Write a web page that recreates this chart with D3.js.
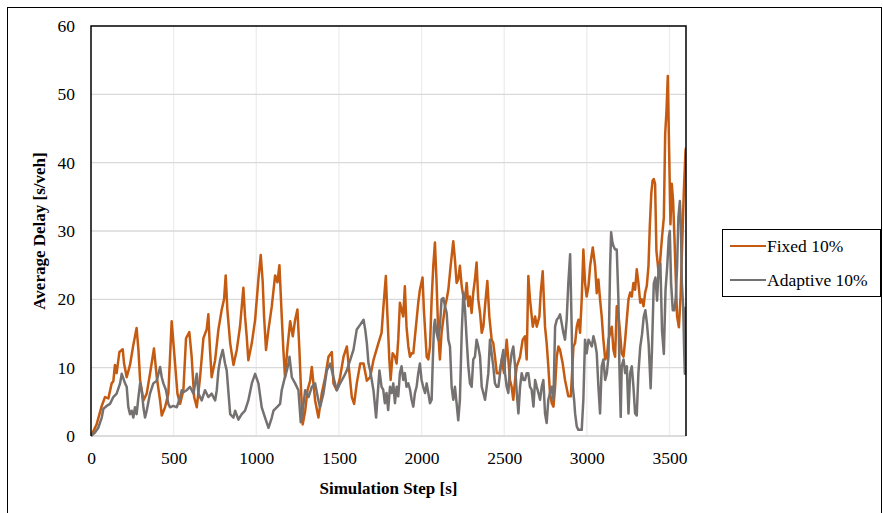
<!DOCTYPE html>
<html><head><meta charset="utf-8">
<script src="https://cdn.jsdelivr.net/npm/d3@7"></script>
<style>body{margin:0;background:#fff}svg{display:block}text{font-family:"Liberation Serif","Times New Roman",serif}</style>
</head><body><svg id="c" width="883" height="513"></svg>
<script>
const xTicks=[0,500,1000,1500,2000,2500,3000,3500];
const yTicks=[0,10,20,30,40,50,60];
const seriesNames=["Fixed 10%","Adaptive 10%"];
const fixedT=[0,34,65,85,105,125,135,145,155,172,192,200,216,236,256,276,287,297,317,337,357,381,398,418,428,448,468,488,502,523,539,559,575,595,609,624,640,660,680,700,710,720,730,751,771,791,805,815,825,842,862,882,902,922,932,942,952,973,993,1013,1027,1039,1047,1059,1074,1094,1114,1128,1140,1154,1164,1174,1189,1205,1221,1235,1249,1261,1269,1281,1296,1310,1326,1336,1356,1376,1396,1417,1437,1457,1467,1487,1507,1528,1548,1564,1578,1592,1608,1629,1649,1669,1689,1709,1739,1758,1768,1784,1792,1805,1813,1825,1839,1849,1859,1869,1879,1889,1899,1909,1920,1930,1940,1950,1966,1980,1990,2006,2014,2031,2041,2051,2061,2071,2081,2091,2101,2111,2121,2132,2142,2152,2162,2176,2192,2202,2212,2222,2232,2243,2253,2263,2273,2283,2293,2303,2313,2323,2333,2343,2354,2364,2374,2384,2398,2410,2424,2434,2444,2455,2471,2485,2499,2515,2525,2535,2545,2555,2566,2576,2596,2612,2626,2636,2646,2656,2673,2687,2697,2713,2721,2733,2747,2757,2767,2777,2788,2798,2808,2818,2828,2838,2854,2868,2888,2903,2913,2919,2929,2939,2949,2959,2969,2979,2989,2999,3010,3020,3036,3050,3060,3070,3080,3090,3100,3111,3121,3131,3141,3151,3161,3171,3181,3191,3201,3211,3222,3232,3242,3252,3262,3272,3282,3292,3302,3312,3323,3333,3343,3353,3363,3373,3381,3390,3398,3405,3413,3421,3429,3437,3445,3455,3466,3474,3482,3490,3498,3506,3514,3522,3530,3538,3546,3557,3567,3577,3587,3597,3600];
const fixedV=[0,1.7,4.4,5.7,5.5,7.7,8,10.4,9.2,12.3,12.7,10.6,8.6,10.4,13.3,15.8,12.6,8.2,5.2,6.2,9.1,12.8,8.6,5.2,3,4.2,6.2,16.8,12.6,6.2,4.7,6.7,14.3,15.2,11.6,5.7,4.2,8.6,14.3,15.6,17.8,12.6,8.6,11.1,15.6,18.5,20,23.5,18.5,13.6,10.4,12.6,16.1,21.7,17.5,14.6,11.1,13.6,17,23,26.5,22.5,17.5,12.6,15.6,19,23.5,22.5,25,17.5,12.6,8.6,13,16.8,14.6,17,18.5,12.6,7.7,1.7,3.7,6.7,8.1,10.1,5.2,2.7,6.2,8.6,11.6,12.3,7.7,6.7,8.6,11.6,13.1,9.1,5.7,4.7,7.7,10.6,10.6,8.1,8.6,11.1,13.6,15.1,18.5,23.4,18.5,11.2,8.2,12.1,11.6,10.6,14.1,19.5,18.5,17.5,21.9,16,13.1,11.6,12.1,12.1,16,19.5,21.4,23.2,18.5,11.6,11.2,13.1,20,24.9,28.3,22.4,15.1,11.2,15.1,17.1,19,20,21.4,24.9,28.5,25.8,22.4,22.9,24.9,21.9,20.4,20,22.4,19,20.4,18,21,22.9,25.4,20,18,15.1,16,19,22.7,17.5,14.1,13.6,11.7,9.2,9.2,11.2,9.2,14.1,11.2,8.2,7.2,5.3,8.2,10.2,11.6,14.1,14.6,11.2,23.4,20,16,17.5,16,17.5,21,24.1,16,13.6,10.2,6.3,4.8,4.3,7.2,11.6,13.1,12.6,10.6,8.2,5.8,5.8,10.2,13.1,13.6,16,17,15.1,20,27.3,22.4,20.4,21.9,24.9,27.6,24.9,20.9,22.9,20,17.5,14.1,11.2,11.6,14.1,15.1,16,12.6,11.6,19,18,15.1,12.1,11.6,14.1,17.1,20,21,20.4,22.4,21.4,24.4,22.4,19.5,20,19,21,22,24.9,30.7,35.5,37.4,37.6,36.9,27.1,25.2,23.2,26.1,29.1,32,44.2,47.6,52.7,41.7,31,36.9,34.4,29.1,23.2,17.5,15.9,20.3,28.1,35.9,41.7,42.2];
const adaptiveT=[0,24,44,65,75,95,115,135,155,176,186,196,206,216,226,236,246,256,266,276,287,297,307,317,327,337,357,377,398,418,428,438,454,468,478,498,519,539,549,559,579,599,620,640,650,670,690,710,730,751,761,771,781,797,811,821,842,862,872,892,912,932,952,973,993,1013,1033,1053,1074,1094,1104,1124,1144,1154,1168,1185,1195,1201,1215,1235,1255,1269,1281,1296,1316,1336,1356,1376,1386,1406,1427,1447,1467,1487,1507,1528,1548,1568,1588,1608,1629,1649,1659,1669,1679,1689,1709,1725,1735,1745,1758,1768,1778,1788,1798,1809,1819,1829,1839,1849,1859,1869,1879,1889,1899,1909,1920,1930,1940,1950,1960,1970,1980,1990,2000,2010,2021,2031,2041,2051,2061,2067,2075,2081,2091,2101,2111,2121,2132,2142,2152,2162,2172,2182,2192,2202,2212,2222,2232,2243,2253,2263,2273,2283,2293,2303,2313,2323,2333,2343,2354,2364,2374,2384,2394,2404,2414,2424,2434,2444,2455,2465,2475,2485,2495,2505,2515,2525,2535,2545,2555,2566,2576,2586,2596,2606,2616,2626,2636,2646,2656,2666,2677,2687,2697,2707,2717,2727,2737,2747,2757,2767,2777,2788,2798,2808,2818,2828,2838,2848,2858,2868,2878,2888,2899,2909,2915,2923,2929,2939,2949,2959,2969,2979,2989,2999,3010,3020,3030,3040,3050,3060,3070,3080,3090,3100,3111,3121,3131,3141,3147,3155,3161,3171,3181,3191,3197,3205,3211,3222,3232,3242,3252,3262,3272,3282,3292,3302,3312,3323,3334,3344,3354,3364,3374,3386,3394,3405,3415,3425,3435,3445,3455,3466,3476,3486,3496,3502,3510,3520,3530,3538,3546,3554,3563,3569,3575,3583,3589,3593,3599];
const adaptiveV=[0,0.5,1.2,2.7,4,4.4,4.7,5.7,6.2,7.7,9.1,8.4,7.7,7.2,4.2,3.2,3.7,2.7,4.2,3.2,5.7,7.7,6.7,4.2,2.7,3.7,6.2,7.7,8.1,10.1,8.6,7.7,6.7,4.7,4.2,4.4,4.2,5.7,6.7,6.4,6.7,7.2,6.2,9.1,6.2,5.2,6.7,5.7,6.2,5.2,6.7,9.6,11.1,12.6,10.6,9.6,3.2,2.7,3.7,2.4,3.2,3.7,5.2,7.7,9.1,7.7,4.2,2.7,1.2,2.7,3.7,4.2,4.7,6.7,8.1,9.6,10.6,11.6,8.6,7.7,6.7,2,3.7,6.7,5.7,7.2,7.7,5.2,4.2,6.2,9.6,10.6,8.6,6.7,7.7,8.6,9.6,11.1,12.6,15.6,16.3,17,15.6,13.6,10.6,9.6,6.7,2.7,6.2,9.6,7.2,6.8,4.8,6.3,3.8,7.2,6.3,7.7,4.8,7.2,5.8,9.2,10.2,8.2,9.2,7.2,7.7,6.8,5.3,4.3,6.3,7.2,9.2,10.6,8.2,7.2,6.3,7.7,6.3,4.8,5.3,10.2,16,17,15.1,14.1,16,20,20.2,19,18,14.1,13.1,7.2,5.3,7.2,4.8,2.3,5.3,15.1,21,18.5,14.1,10.2,7.7,7.2,11.2,11.6,14.1,13.1,11.6,7.2,6.3,5.3,7.2,9.2,14.1,12.1,10.2,7.7,7.2,7.2,9.2,11.2,12.6,9.2,7.2,6.3,10.2,12.1,13.1,10.2,6.3,3.3,7.2,9.2,8.2,8.2,9.2,9.2,7.2,6.8,4.3,8.2,7.2,6.3,5.3,7.2,8.2,3.3,1.9,5.3,6.3,7.2,5.3,16,17,17.3,17.8,16.5,15.1,14.1,17,22.4,26.6,15.1,7.2,5.3,3.3,1.4,0.9,0.9,0.9,5.3,14.1,12.1,14.1,13.6,13.1,14.6,13.6,12.1,7.2,3.3,10.2,11.2,8.2,9.2,11.6,24.9,29.8,28.3,27.8,27.3,27.3,20,10.2,2.8,10.2,11.2,9.2,10.2,3.3,9.2,10.2,7.2,3.3,3,9.2,13,14.9,17.4,18.4,16.4,13.5,7,12.5,22.3,23.2,19.8,24.7,25.2,15.4,12,21.3,24.7,29.1,30,22.3,18.4,18.4,20.3,24.7,32,34.4,31,22.3,18.9,12.5,9.1,18.9];

const colors=["#C55A11","#767171"];
const svg=d3.select("#c");
const L=91,R=686,T=26,B=436;
const x=d3.scaleLinear().domain([0,3600]).range([L,R]);
const y=d3.scaleLinear().domain([0,60]).range([B,T]);

svg.append("rect").attr("x",7.5).attr("y",7.5).attr("width",874).attr("height",520).attr("fill","none").attr("stroke","#000").attr("stroke-width",1);

svg.append("g").selectAll("line").data(xTicks.filter(d=>d>0)).join("line")
 .attr("x1",d=>x(d)).attr("x2",d=>x(d)).attr("y1",T).attr("y2",B)
 .attr("stroke","#EDEDED").attr("stroke-width",1.3);
svg.append("g").selectAll("line").data(yTicks.filter(d=>d>0&&d<60)).join("line")
 .attr("x1",L).attr("x2",R).attr("y1",d=>y(d)).attr("y2",d=>y(d))
 .attr("stroke","#D9D9D9").attr("stroke-width",1.3);
svg.append("line").attr("x1",L).attr("x2",R).attr("y1",B).attr("y2",B).attr("stroke","#D0D0D0").attr("stroke-width",1.3);

const xa=svg.append("g").attr("transform",`translate(0,${B})`).call(d3.axisBottom(x).tickValues(xTicks).tickSize(0).tickPadding(16).tickFormat(d3.format("d")));
xa.select(".domain").remove();
xa.selectAll("text").attr("font-size","17.5px").attr("fill","#000").attr("font-family","Liberation Serif");
const ya=svg.append("g").attr("transform",`translate(${L},0)`).call(d3.axisLeft(y).tickValues(yTicks).tickSize(0).tickPadding(16));
ya.select(".domain").remove();
ya.selectAll("text").attr("font-size","17.5px").attr("fill","#000").attr("font-family","Liberation Serif");

const series=[{t:fixedT,v:fixedV},{t:adaptiveT,v:adaptiveV}];
svg.append("clipPath").attr("id","pc").append("rect").attr("x",L).attr("y",T).attr("width",R-L).attr("height",B-T+2);
const line=d3.line().x(d=>x(d[0])).y(d=>y(d[1]));
[0,1].forEach(i=>{
  const pts=series[i].t.map((t,j)=>[t,series[i].v[j]]);
  svg.append("path").datum(pts).attr("d",line).attr("fill","none").attr("stroke",colors[i]).attr("stroke-width",2.5).attr("stroke-linejoin","round").attr("clip-path","url(#pc)");
});

svg.append("path").attr("d",`M${L},${B}V${T}H${R}V${B}`).attr("fill","none").attr("stroke","#000").attr("stroke-width",1.5);

svg.append("text").attr("x",(L+R)/2).attr("y",494).attr("text-anchor","middle").attr("font-weight","bold").attr("font-size","17px").text("Simulation Step [s]");
svg.append("text").attr("transform",`translate(45,${(T+B)/2}) rotate(-90)`).attr("text-anchor","middle").attr("font-weight","bold").attr("font-size","17px").text("Average Delay [s/veh]");

const lg=svg.append("g");
lg.append("rect").attr("x",722.5).attr("y",229.5).attr("width",158).attr("height",67).attr("fill","#fff").attr("stroke","#000").attr("stroke-width",1);
seriesNames.forEach((n,i)=>{
  const yy=246+i*34;
  lg.append("line").attr("x1",730).attr("x2",766).attr("y1",yy).attr("y2",yy).attr("stroke",colors[i]).attr("stroke-width",2.2);
  lg.append("text").attr("x",767).attr("y",yy+6).attr("font-size","17.5px").text(n);
});
</script></body></html>
